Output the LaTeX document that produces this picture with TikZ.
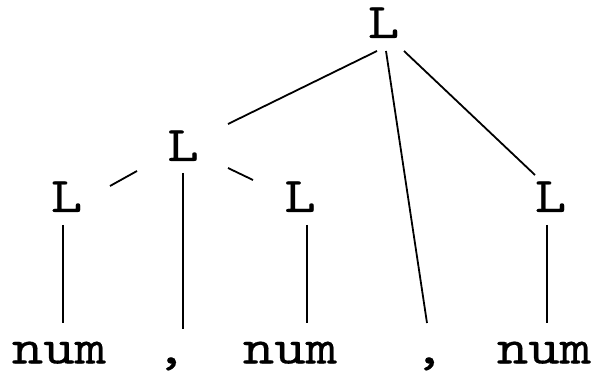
\documentclass[tikz,border=0pt]{standalone}
\usepackage{fontspec}
\newfontfamily\codefont{lmmono10-regular.otf}[FakeStretch=1.2,FakeBold=0.3]
\usetikzlibrary{calc}
\begin{document}
\begin{tikzpicture}[x=1pt,y=-1pt,
  lbl/.style={font=\codefont\fontsize{50}{50}\selectfont, inner sep=0pt, anchor=base},
  edge/.style={line width=1.8pt}]
\useasboundingbox (0,0) rectangle (592,374);
\node[lbl] (t) at (383.5,38) {L};
\node[lbl] (m) at (183,161) {L};
\node[lbl] (l1) at (66.5,212) {L};
\node[lbl] (l2) at (300,212) {L};
\node[lbl] (l3) at (550.5,212) {L};
\node[lbl] (n1) at (59,363.5) {num};
\node[lbl] (c1) at (171,363.5) {,};
\node[lbl] (n2) at (290,363.5) {num};
\node[lbl] (c2) at (429,363.5) {,};
\node[lbl] (n3) at (544,363.5) {num};
\draw[edge] ($(t.base)+(-6.5,13)$) -- ($(m.base)+(45,-37)$);
\draw[edge] ($(t.base)+(2.5,13)$) -- ($(c2.base)+(-2,-40.5)$);
\draw[edge] ($(t.base)+(20.5,13)$) -- ($(l3.base)+(-15.5,-37)$);
\draw[edge] ($(m.base)+(-46,10)$) -- ($(l1.base)+(43.5,-26)$);
\draw[edge] ($(m.base)+(0,12)$) -- ($(c1.base)+(12,-34.5)$);
\draw[edge] ($(m.base)+(45,7)$) -- ($(l2.base)+(-47,-32)$);
\draw[edge] ($(l1.base)+(-3.5,13)$) -- ($(n1.base)+(4,-40.5)$);
\draw[edge] ($(l2.base)+(7,13)$) -- ($(n2.base)+(17,-40.5)$);
\draw[edge] ($(l3.base)+(-3.5,13)$) -- ($(n3.base)+(3,-40.5)$);
\end{tikzpicture}
\end{document}
